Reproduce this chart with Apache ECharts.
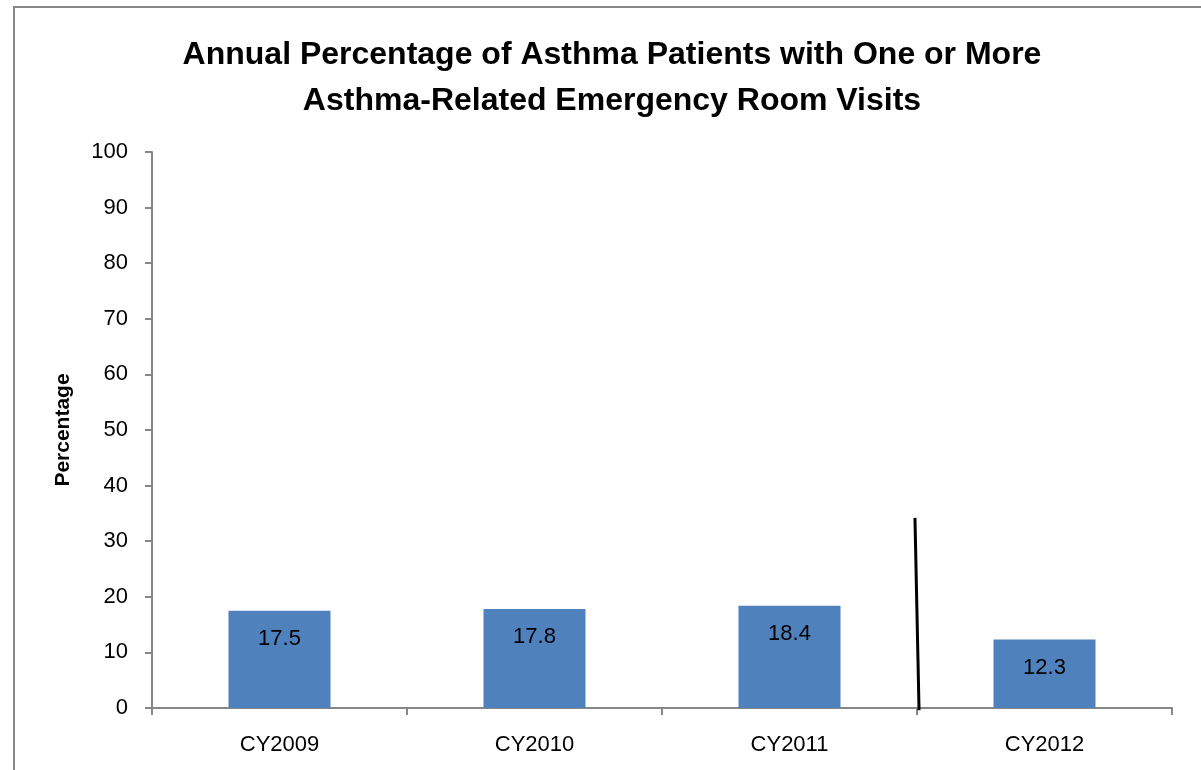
<!DOCTYPE html>
<html>
<head>
<meta charset="utf-8">
<script src="https://cdn.jsdelivr.net/npm/echarts@6/dist/echarts.min.js"></script>
<style>
  html, body { margin: 0; padding: 0; background: #fff; }
  #chart { width: 1201px; height: 770px; }
</style>
</head>
<body>
<div id="chart"></div>
<script>
  // data
  let years = ['CY2009', 'CY2010', 'CY2011', 'CY2012'];
  let percentages = [17.5, 17.8, 18.4, 12.3];
  // separator line drawn between CY2011 and CY2012 (x on a 0..4 scale, y in %)
  let dividerX = [2.992, 3.008];
  let dividerY = [34.2, -0.4];

  let myChart = echarts.init(document.getElementById('chart'));
  let font = 'Liberation Sans, Arial, sans-serif';

  let option = {
    backgroundColor: '#fff',
    animation: false,
    title: {
      text: 'Annual Percentage of Asthma Patients with One or More\nAsthma-Related Emergency Room Visits',
      left: 607,
      textAlign: 'center',
      top: 27,
      textStyle: {
        fontFamily: font,
        fontWeight: 'bold',
        fontSize: 32,
        lineHeight: 46,
        color: '#000'
      }
    },
    grid: {
      left: 152,
      right: 29,
      top: 152,
      bottom: 62
    },
    xAxis: [{
      type: 'category',
      data: years,
      axisLine: { lineStyle: { color: '#868686', width: 2 } },
      axisTick: { show: true, length: 7, lineStyle: { color: '#868686', width: 2 } },
      axisLabel: { fontFamily: font, fontSize: 22, color: '#000', margin: 26 }
    }, {
      type: 'value',
      min: 0,
      max: 4,
      show: false
    }],
    yAxis: {
      type: 'value',
      min: 0,
      max: 100,
      interval: 10,
      name: 'Percentage',
      nameLocation: 'middle',
      nameGap: 78,
      nameTextStyle: { fontFamily: font, fontWeight: 'bold', fontSize: 21, color: '#000' },
      axisLine: { show: true, lineStyle: { color: '#868686', width: 2 } },
      axisTick: { show: true, length: 7, lineStyle: { color: '#868686', width: 2 } },
      axisLabel: { fontFamily: font, fontSize: 22, color: '#000', margin: 24 },
      splitLine: { show: false }
    },
    series: [{
      type: 'bar',
      data: percentages,
      barWidth: '40%',
      itemStyle: { color: '#4F81BD' },
      label: {
        show: true,
        position: 'insideTop',
        distance: 17,
        fontFamily: font,
        fontSize: 22,
        color: '#000'
      }
    }, {
      type: 'line',
      xAxisIndex: 1,
      data: [[dividerX[0], dividerY[0]], [dividerX[1], dividerY[1]]],
      symbol: 'none',
      clip: false,
      lineStyle: { color: '#000', width: 3 },
      silent: true
    }],
    graphic: [{
      type: 'rect',
      shape: { x: 14, y: 7, width: 1200, height: 770 },
      style: { fill: 'none', stroke: '#888', lineWidth: 2 },
      silent: true
    }]
  };

  myChart.setOption(option);
</script>
</body>
</html>
